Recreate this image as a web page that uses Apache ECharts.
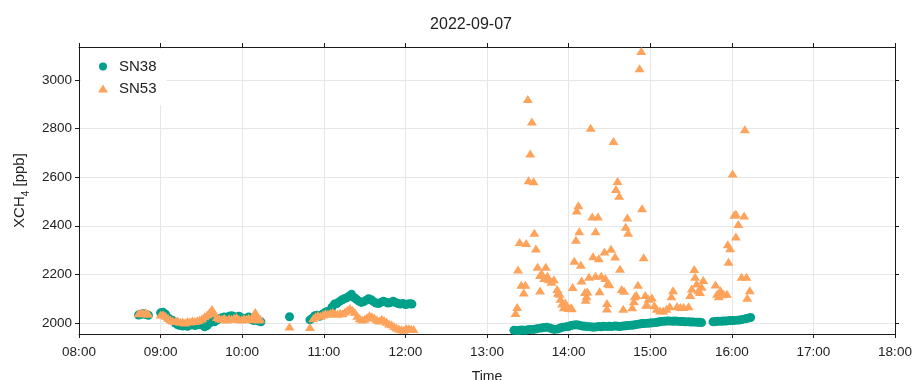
<!DOCTYPE html>
<html>
<head>
<meta charset="utf-8">
<script src="https://cdn.jsdelivr.net/npm/echarts@6/dist/echarts.min.js"></script>
<style>
	html, body { margin: 0; padding: 0; background: #fff; }
	#chart { width: 912px; height: 380px; }
</style>
</head>
<body>
<div id="chart"></div>
<script>
// time of day in hours, XCH4 in ppb
const sn38Morning = [
	[8.73, 2033], [8.76, 2036], [8.79, 2038], [8.82, 2035], [8.85, 2032],
	[9.00, 2042], [9.03, 2044], [9.06, 2036], [9.09, 2022], [9.12, 2015], [9.15, 2010],
	[9.18, 2000], [9.21, 1993], [9.24, 1990], [9.27, 1988], [9.30, 1990], [9.33, 1987],
	[9.36, 1992], [9.39, 1995], [9.42, 1990], [9.45, 1993], [9.48, 1995], [9.51, 1992],
	[9.54, 1985], [9.57, 1990], [9.60, 2000], [9.63, 2008], [9.66, 2005], [9.69, 2012],
	[9.72, 2018], [9.75, 2022], [9.78, 2025], [9.81, 2020], [9.84, 2028], [9.87, 2030],
	[9.90, 2026], [9.93, 2024], [9.96, 2028], [9.99, 2022], [10.02, 2018], [10.05, 2020],
	[10.08, 2025], [10.11, 2015], [10.14, 2010], [10.17, 2012], [10.20, 2008], [10.23, 2005]
];
const sn38Midday = [
	[10.58, 2026],
	[10.83, 2013], [10.86, 2020], [10.89, 2030], [10.92, 2032], [10.95, 2028], [10.98, 2035],
	[11.01, 2042], [11.04, 2048], [11.07, 2050], [11.10, 2065], [11.13, 2078], [11.16, 2080],
	[11.19, 2088], [11.22, 2095], [11.25, 2100], [11.28, 2104], [11.31, 2110], [11.34, 2118],
	[11.37, 2105], [11.40, 2098], [11.43, 2090], [11.46, 2085], [11.49, 2088], [11.52, 2094],
	[11.55, 2100], [11.58, 2096], [11.61, 2088], [11.64, 2082], [11.67, 2080], [11.70, 2085],
	[11.73, 2090], [11.76, 2086], [11.79, 2082], [11.82, 2085], [11.85, 2090], [11.88, 2084],
	[11.91, 2080], [11.94, 2078], [11.97, 2080], [12.00, 2076], [12.03, 2078], [12.06, 2079],
	[12.08, 2078]
];
const sn38Afternoon = [
	[13.33, 1970], [13.37, 1969], [13.40, 1970], [13.43, 1971], [13.47, 1970], [13.50, 1972],
	[13.53, 1973], [13.57, 1974], [13.60, 1976], [13.63, 1978], [13.67, 1980], [13.70, 1982],
	[13.73, 1983], [13.77, 1980], [13.80, 1976], [13.83, 1974], [13.87, 1976], [13.90, 1980],
	[13.93, 1983], [13.97, 1985], [14.00, 1986], [14.03, 1990], [14.07, 1992], [14.10, 1993],
	[14.13, 1991], [14.17, 1988], [14.20, 1987], [14.23, 1986], [14.27, 1985], [14.30, 1983],
	[14.33, 1984], [14.37, 1986], [14.40, 1985], [14.43, 1987], [14.47, 1986], [14.50, 1987],
	[14.53, 1986], [14.57, 1988], [14.60, 1987], [14.63, 1986], [14.67, 1988], [14.70, 1989],
	[14.73, 1990], [14.77, 1991], [14.80, 1992], [14.83, 1994], [14.87, 1996], [14.90, 1998],
	[14.93, 1998], [14.97, 1999], [15.00, 2000], [15.03, 2001], [15.07, 2002], [15.10, 2004],
	[15.13, 2006], [15.17, 2007], [15.20, 2008], [15.23, 2008], [15.27, 2007], [15.30, 2008],
	[15.33, 2007], [15.37, 2006], [15.40, 2006], [15.43, 2005], [15.47, 2005], [15.50, 2004],
	[15.53, 2004], [15.57, 2003], [15.60, 2003], [15.63, 2002],
	[15.77, 2005], [15.80, 2006], [15.83, 2007], [15.87, 2007], [15.90, 2008], [15.93, 2008],
	[15.97, 2010], [16.00, 2010], [16.03, 2011], [16.07, 2012], [16.10, 2013], [16.13, 2015],
	[16.17, 2018], [16.20, 2020], [16.23, 2023]
];
const sn53Morning = [
	[8.73, 2040], [8.76, 2043], [8.79, 2040], [8.82, 2044], [8.85, 2038],
	[9.00, 2035], [9.03, 2036], [9.06, 2030], [9.09, 2022], [9.12, 2015], [9.15, 2010],
	[9.18, 2008], [9.21, 2010], [9.24, 2005], [9.27, 2006], [9.30, 2002], [9.33, 2008],
	[9.36, 2006], [9.39, 2010], [9.42, 2008], [9.45, 2012], [9.48, 2015], [9.51, 2020],
	[9.54, 2028], [9.57, 2035], [9.60, 2045], [9.63, 2058], [9.66, 2040], [9.69, 2025],
	[9.72, 2020], [9.75, 2018], [9.78, 2022], [9.81, 2015], [9.84, 2020], [9.87, 2018],
	[9.90, 2022], [9.93, 2025], [9.96, 2017], [9.99, 2015], [10.02, 2020], [10.05, 2018],
	[10.08, 2022], [10.11, 2016], [10.14, 2030], [10.16, 2045], [10.18, 2025], [10.20, 2015],
	[10.22, 2018]
];
const sn53Midday = [
	[10.58, 1986], [10.83, 1984],
	[10.87, 2020], [10.90, 2028], [10.93, 2033], [10.96, 2030], [10.99, 2035], [11.02, 2040],
	[11.05, 2038], [11.08, 2042], [11.11, 2045], [11.14, 2040], [11.17, 2038], [11.20, 2042],
	[11.23, 2040], [11.26, 2048], [11.29, 2055], [11.32, 2062], [11.35, 2055], [11.38, 2045],
	[11.41, 2030], [11.44, 2020], [11.47, 2015], [11.50, 2018], [11.53, 2025], [11.56, 2032],
	[11.59, 2028], [11.62, 2022], [11.65, 2015], [11.68, 2010], [11.71, 2018], [11.74, 2012],
	[11.77, 2005], [11.80, 1998], [11.83, 1995], [11.86, 1988], [11.89, 1982], [11.92, 1978],
	[11.95, 1975], [11.98, 1972], [12.01, 1980], [12.04, 1979], [12.07, 1977], [12.10, 1976]
];
const sn53Afternoon = [
	[13.35, 2041], [13.37, 2066], [13.38, 2220], [13.40, 2333], [13.42, 2157], [13.45, 2126],
	[13.47, 2157], [13.48, 2329], [13.50, 2921], [13.51, 2587], [13.53, 2697], [13.55, 2829],
	[13.57, 2583], [13.58, 2371], [13.60, 2307], [13.62, 2232], [13.65, 2134], [13.65, 2198],
	[13.67, 2205], [13.70, 2185], [13.72, 2232], [13.74, 2195], [13.76, 2180], [13.79, 2170],
	[13.82, 2180], [13.86, 2140], [13.87, 2125], [13.89, 2120], [13.90, 2100], [13.92, 2080],
	[13.94, 2065], [13.96, 2085], [13.98, 2070], [14.00, 2062], [14.03, 2065], [14.04, 2061],
	[14.05, 2148], [14.07, 2256], [14.09, 2342], [14.10, 2463], [14.12, 2484], [14.13, 2377],
	[14.15, 2240], [14.16, 2175], [14.20, 2128], [14.21, 2096], [14.22, 2110], [14.23, 2130],
	[14.25, 2190], [14.27, 2803], [14.29, 2438], [14.30, 2275], [14.33, 2377], [14.33, 2195],
	[14.36, 2438], [14.37, 2266], [14.38, 2131], [14.40, 2195], [14.44, 2294], [14.45, 2185],
	[14.47, 2060], [14.47, 2082], [14.48, 2165], [14.50, 2160], [14.52, 2305], [14.55, 2749],
	[14.57, 2274], [14.58, 2551], [14.60, 2584], [14.62, 2523], [14.63, 2223], [14.65, 2140],
	[14.67, 2059], [14.68, 2133], [14.70, 2396], [14.72, 2434], [14.73, 2371], [14.78, 2065],
	[14.80, 2090], [14.81, 2110], [14.83, 2115], [14.85, 2157], [14.87, 3048], [14.89, 3119],
	[14.90, 2472], [14.92, 2271], [14.94, 2115], [14.95, 2075], [14.96, 2077], [14.98, 2100],
	[15.02, 2105], [15.05, 2073], [15.08, 2059], [15.12, 2052], [15.16, 2052], [15.20, 2059],
	[15.24, 2069], [15.26, 2110], [15.28, 2135], [15.33, 2070], [15.37, 2066], [15.41, 2066],
	[15.47, 2069], [15.49, 2115], [15.51, 2142], [15.54, 2222], [15.55, 2190], [15.57, 2163],
	[15.59, 2135], [15.61, 2128], [15.63, 2149], [15.65, 2177], [15.80, 2159], [15.82, 2121],
	[15.84, 2110], [15.86, 2135], [15.88, 2118], [15.90, 2121], [15.94, 2121], [15.95, 2324],
	[15.96, 2252], [15.98, 2308], [16.01, 2615], [16.03, 2445], [16.05, 2449], [16.05, 2356],
	[16.08, 2407], [16.12, 2190], [16.15, 2442], [16.16, 2797], [16.18, 2190], [16.19, 2104],
	[16.22, 2135]
];
const hourTicks = [8, 9, 10, 11, 12, 13, 14, 15, 16, 17, 18];
const ppbTicks = [2000, 2200, 2400, 2600, 2800, 3000];

const font = "'Liberation Sans', Arial, sans-serif";
const colors = {
	sn38: '#00a08a',
	sn53: '#fda35c',
	grid: '#e6e6e6',
	axis: '#1a1a1a',
	text: '#222'
};
const hourLabel = v => `${String(v).padStart(2, '0')}:00`;

const chart = echarts.init(document.getElementById('chart'), null, {renderer: 'canvas'});
chart.setOption({
	animation: false,
	backgroundColor: '#fff',
	textStyle: {fontFamily: font},
	title: {
		text: '2022-09-07',
		left: 466,
		top: 12,
		textAlign: 'center',
		textStyle: {fontFamily: font, fontSize: 16, fontWeight: 'normal', color: colors.text}
	},
	grid: {left: 79, right: 17, top: 47, bottom: 46, outerBoundsMode: 'none', containLabel: false},
	legend: {
		orient: 'vertical',
		left: 81,
		top: 49,
		padding: [10, 10, 9, 17],
		backgroundColor: '#fff',
		itemWidth: 10,
		itemHeight: 8,
		itemGap: 7,
		textStyle: {fontFamily: font, fontSize: 15, color: colors.text, padding: [0, 0, 0, 6]},
		data: ['SN38', 'SN53']
	},
	xAxis: [{
		type: 'value',
		min: 8,
		max: 18,
		interval: 1,
		name: 'Time',
		nameLocation: 'middle',
		nameGap: 36,
		nameTextStyle: {fontFamily: font, fontSize: 14, color: colors.text},
		axisLine: {lineStyle: {color: colors.axis, width: 1}},
		axisTick: {show: true, length: 4, customValues: hourTicks, lineStyle: {color: colors.axis}},
		axisLabel: {customValues: hourTicks, formatter: hourLabel, fontSize: 13.5, color: colors.text, margin: 11},
		splitLine: {show: true, lineStyle: {color: colors.grid, width: 1}}
	}, {
		type: 'value',
		position: 'top',
		min: 8,
		max: 18,
		interval: 1,
		axisLine: {show: true, lineStyle: {color: colors.axis, width: 1}},
		axisTick: {show: true, length: 4, lineStyle: {color: colors.axis}},
		axisLabel: {show: false},
		splitLine: {show: false}
	}],
	yAxis: [{
		type: 'value',
		min: 1955,
		max: 3135,
		name: 'XCH{sub|4} [ppb]',
		nameLocation: 'middle',
		nameRotate: 90,
		nameGap: 38,
		nameTextStyle: {
			fontFamily: font, fontSize: 15, color: colors.text,
			rich: {sub: {fontFamily: font, fontSize: 10, color: colors.text, verticalAlign: 'bottom', padding: [0, 0, -4, 0]}}
		},
		axisLine: {show: true, lineStyle: {color: colors.axis, width: 1}},
		axisTick: {show: true, length: 4, customValues: ppbTicks, lineStyle: {color: colors.axis}},
		axisLabel: {customValues: ppbTicks, formatter: v => String(v), fontSize: 13.5, color: colors.text, margin: 7},
		splitLine: {show: true, lineStyle: {color: colors.grid, width: 1}}
	}, {
		type: 'value',
		position: 'right',
		min: 1955,
		max: 3135,
		axisLine: {show: true, lineStyle: {color: colors.axis, width: 1}},
		axisTick: {show: true, length: 4, customValues: ppbTicks, lineStyle: {color: colors.axis}},
		axisLabel: {show: false},
		splitLine: {show: false}
	}],
	series: [{
		name: 'SN38',
		type: 'scatter',
		symbol: 'circle',
		symbolSize: 9,
		itemStyle: {color: colors.sn38, opacity: 1},
		data: sn38Morning.concat(sn38Midday, sn38Afternoon)
	}, {
		name: 'SN53',
		type: 'scatter',
		symbol: 'triangle',
		symbolSize: [10, 8],
		itemStyle: {color: colors.sn53, opacity: 1},
		data: sn53Morning.concat(sn53Midday, sn53Afternoon)
	}]
});
</script>
</body>
</html>
